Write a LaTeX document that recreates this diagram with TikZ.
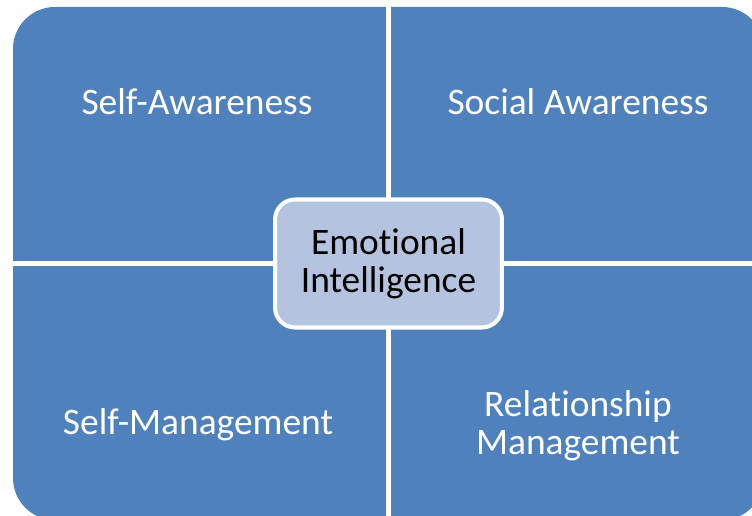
\documentclass[tikz,border=0pt]{standalone}
\usepackage{fontspec}
\setmainfont{Carlito}[Ligatures=NoCommon]
\usetikzlibrary{positioning}
\definecolor{quadblue}{RGB}{79,129,189}
\definecolor{corebox}{RGB}{180,196,224}

\begin{document}
\begin{tikzpicture}[
x=0.02cm, y=-0.02cm,
quad/.style={fill=quadblue, rounded corners=0.84cm},
divider/.style={white, line width=2.8pt},
core/.style={draw=white, line width=2.3pt, fill=corebox, rounded corners=0.4cm, minimum width=4.54cm, minimum height=2.56cm, align=center, font=\fontsize{21.3}{21.5}\selectfont},
quadlabel/.style={text=white, align=center, font=\fontsize{21.3}{21.5}\selectfont}
]
\useasboundingbox (0,0) rectangle (752,516);
\begin{scope}
\clip (0,0) rectangle (752,516);
\fill[quad] (13,7) rectangle (764,520);
\draw[divider] (388.5,0) -- (388.5,520);
\draw[divider] (0,263.5) -- (764,263.5);
\end{scope}
\node[quadlabel] (selfaware) at (197,102) {Self-Awareness};
\node[quadlabel] (socialaware) at (578,102) {Social Awareness};
\node[quadlabel] (selfmanage) at (198,425) {Self-Management};
\node[quadlabel] (relmanage) at (578,426) {Relationship\\Management};
\node[core] (ei) at (388.5,263.5) {Emotional\\Intelligence};
\end{tikzpicture}
\end{document}
